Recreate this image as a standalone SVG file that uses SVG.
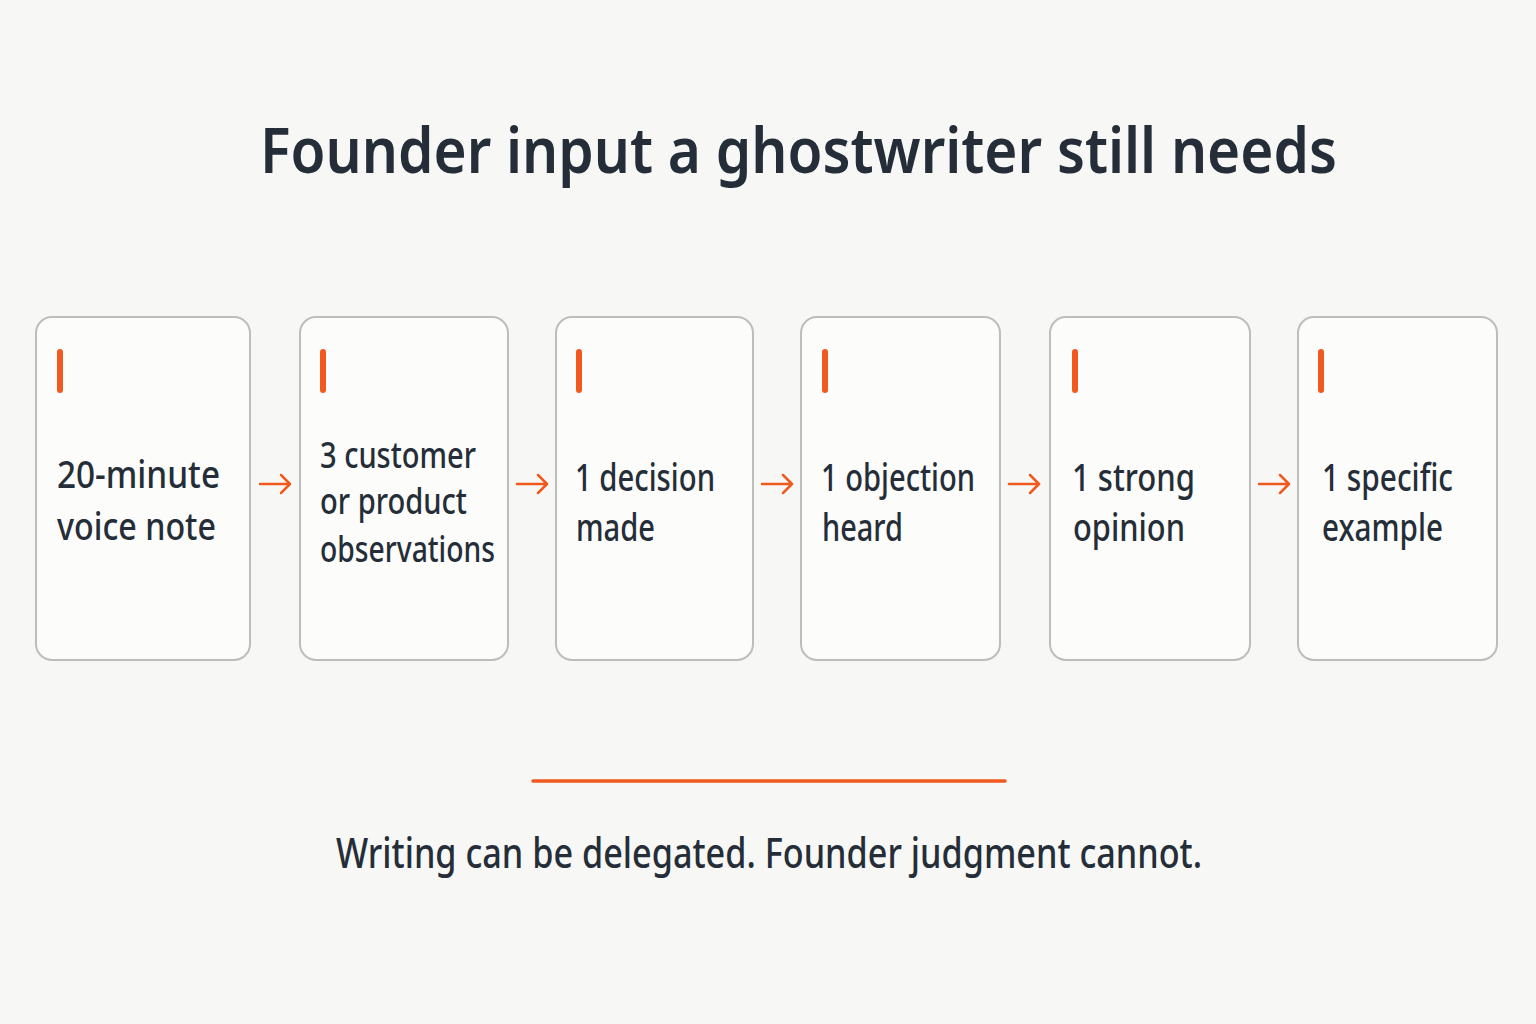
<svg xmlns="http://www.w3.org/2000/svg" width="1536" height="1024" viewBox="0 0 1536 1024">
<defs>
<style>
.card{fill:#FCFCFB;stroke:#BDBDBA;stroke-width:2}
.bar{stroke:#F05A1E;stroke-width:6;stroke-linecap:round}
.t{font-family:"Noto Sans","Open Sans",sans-serif;fill:#252E38;font-size:38px;font-weight:500}
.t2{font-size:36px}
.arr{stroke:#F05A1E;stroke-width:2.5;fill:none;stroke-linecap:round;stroke-linejoin:round}
</style>
</defs>
<rect width="1536" height="1024" fill="#F7F7F5"/>
<text x="260" y="173" textLength="1077" lengthAdjust="spacingAndGlyphs" font-family="'Noto Sans','Open Sans',sans-serif" font-size="64" font-weight="600" fill="#252E38">Founder input a ghostwriter still needs</text>
<g id="n1"><rect class="card" x="36" y="317" width="214" height="343" rx="16"/><line class="bar" x1="60" y1="352" x2="60" y2="390"/><text class="t" x="57" y="488" textLength="163" lengthAdjust="spacingAndGlyphs">20-minute</text><text class="t" x="57" y="540" textLength="159" lengthAdjust="spacingAndGlyphs">voice note</text></g>
<g id="n2"><rect class="card" x="300" y="317" width="208" height="343" rx="16"/><line class="bar" x1="323" y1="352" x2="323" y2="390"/><text class="t t2" x="320" y="468" textLength="156" lengthAdjust="spacingAndGlyphs">3 customer</text><text class="t t2" x="320" y="514" textLength="147" lengthAdjust="spacingAndGlyphs">or product</text><text class="t t2" x="320" y="562" textLength="175" lengthAdjust="spacingAndGlyphs">observations</text></g>
<g id="n3"><rect class="card" x="556" y="317" width="197" height="343" rx="16"/><line class="bar" x1="579" y1="352" x2="579" y2="390"/><text class="t" x="575" y="491" textLength="140" lengthAdjust="spacingAndGlyphs">1 decision</text><text class="t" x="576" y="541" textLength="79" lengthAdjust="spacingAndGlyphs">made</text></g>
<g id="n4"><rect class="card" x="801" y="317" width="199" height="343" rx="16"/><line class="bar" x1="825" y1="352" x2="825" y2="390"/><text class="t" x="821" y="491" textLength="154" lengthAdjust="spacingAndGlyphs">1 objection</text><text class="t" x="822" y="541" textLength="81" lengthAdjust="spacingAndGlyphs">heard</text></g>
<g id="n5"><rect class="card" x="1050" y="317" width="200" height="343" rx="16"/><line class="bar" x1="1075" y1="352" x2="1075" y2="390"/><text class="t" x="1072" y="491" textLength="123" lengthAdjust="spacingAndGlyphs">1 strong</text><text class="t" x="1073" y="541" textLength="112" lengthAdjust="spacingAndGlyphs">opinion</text></g>
<g id="n6"><rect class="card" x="1298" y="317" width="199" height="343" rx="16"/><line class="bar" x1="1321" y1="352" x2="1321" y2="390"/><text class="t" x="1322" y="491" textLength="131" lengthAdjust="spacingAndGlyphs">1 specific</text><text class="t" x="1322" y="541" textLength="121" lengthAdjust="spacingAndGlyphs">example</text></g>
<g id="connectors">
<path class="arr" d="M260 484H290M281 475L290 484L281 493"/>
<path class="arr" d="M517 484H547M538 475L547 484L538 493"/>
<path class="arr" d="M762 484H792M783 475L792 484L783 493"/>
<path class="arr" d="M1009 484H1039M1030 475L1039 484L1030 493"/>
<path class="arr" d="M1259 484H1289M1280 475L1289 484L1280 493"/>
</g>
<line x1="533" y1="781" x2="1005" y2="781" stroke="#F05A1E" stroke-width="3.5" stroke-linecap="round"/>
<text x="336" y="868" textLength="866" lengthAdjust="spacingAndGlyphs" font-family="'Noto Sans','Open Sans',sans-serif" font-size="42" font-weight="500" fill="#252E38">Writing can be delegated. Founder judgment cannot.</text>
</svg>
